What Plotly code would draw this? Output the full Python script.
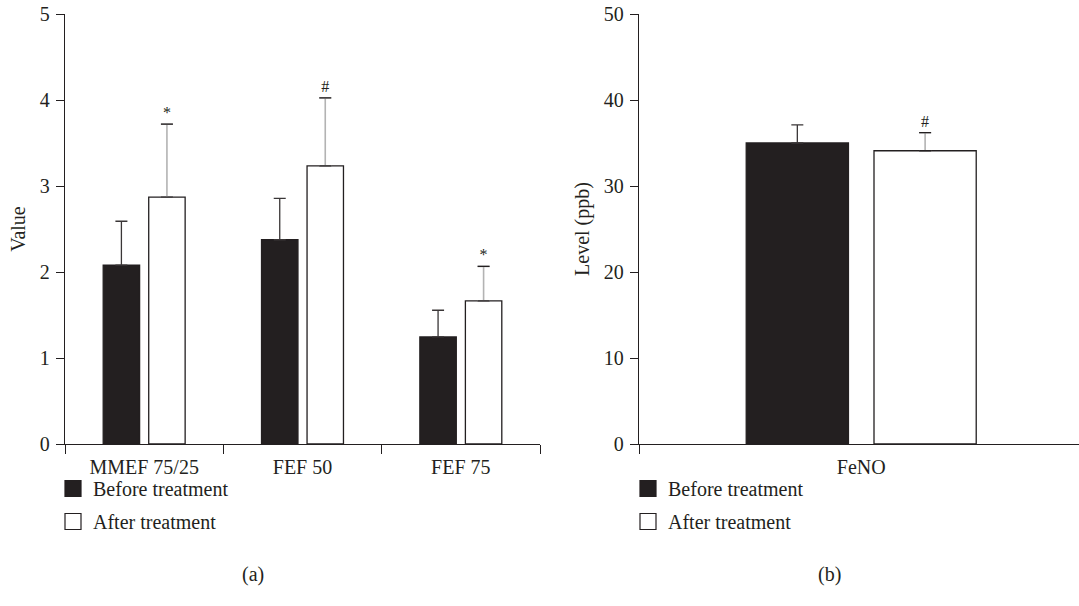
import plotly.graph_objects as go

# ---------------- data ----------------
categories_a = ["MMEF 75/25", "FEF 50", "FEF 75"]
before_a = [2.08, 2.375, 1.245]
before_a_err = [0.51, 0.48, 0.31]
after_a = [2.87, 3.235, 1.665]
after_a_err = [0.85, 0.79, 0.40]
marks_a = ["*", "#", "*"]

categories_b = ["FeNO"]
before_b = [35.0]
before_b_err = [2.1]
after_b = [34.1]
after_b_err = [2.1]
marks_b = ["#"]

legend_names = ["Before treatment", "After treatment"]
panel_labels = ["(a)", "(b)"]

# ---------------- style ----------------
DARK = "#231f20"
GRAY = "#b3b3b3"
FONT = "Liberation Serif"
FS = 20
W, H = 1079, 606
ML, MR, MT, MB = 65, 0, 14, 162
PW = W - ML - MR


def px_x(p):
    return (p - ML) / PW


def px_y(p):
    return (H - MB - p) / (H - MT - MB)


fig = go.Figure()


def add_panel(cats, bef, bef_err, aft, aft_err, marks, xa, ya, tag):
    n = len(cats)
    zeros = [0] * n
    fig.add_trace(go.Bar(
        x=cats, y=bef, xaxis=xa, yaxis=ya, offsetgroup="b" + tag,
        marker=dict(color=DARK, line=dict(color=DARK, width=1.3)),
        error_y=dict(type="data", array=bef_err, arrayminus=zeros, symmetric=False,
                     color="#3a3637", thickness=1.3, width=6),
        showlegend=False, hoverinfo="skip"))
    fig.add_trace(go.Bar(
        x=cats, y=aft, xaxis=xa, yaxis=ya, offsetgroup="a" + tag,
        marker=dict(color="white", line=dict(color=DARK, width=1.3)),
        error_y=dict(type="data", array=aft_err, arrayminus=zeros, symmetric=False,
                     color=GRAY, thickness=1.6, width=6),
        showlegend=False, hoverinfo="skip"))
    # dark cap at top of error bar + significance marks
    tops = [v + e for v, e in zip(aft, aft_err)]
    fig.add_trace(go.Bar(
        x=cats, y=tops, xaxis=xa, yaxis=ya, offsetgroup="a" + tag,
        marker=dict(color="rgba(0,0,0,0)", line=dict(width=0)),
        error_y=dict(type="data", array=zeros, arrayminus=zeros, symmetric=False,
                     color=DARK, thickness=1.3, width=6),
        text=marks, textposition="outside", cliponaxis=False,
        textfont=dict(family=FONT, size=16, color=DARK),
        showlegend=False, hoverinfo="skip"))
    # keep bar top outline dark where the error bar base sits
    fig.add_trace(go.Bar(
        x=cats, y=aft, xaxis=xa, yaxis=ya, offsetgroup="a" + tag,
        marker=dict(color="rgba(0,0,0,0)", line=dict(width=0)),
        error_y=dict(type="data", array=zeros, arrayminus=zeros, symmetric=False,
                     color=DARK, thickness=1.3, width=6),
        showlegend=False, hoverinfo="skip"))


add_panel(categories_a, before_a, before_a_err, after_a, after_a_err, marks_a, "x", "y", "1")
add_panel(categories_b, before_b, before_b_err, after_b, after_b_err, marks_b, "x2", "y2", "2")

# legend entries
for leg, xa, ya in [("legend", "x", "y"), ("legend2", "x2", "y2")]:
    for i, (name, col) in enumerate(zip(legend_names, [DARK, "white"])):
        fig.add_trace(go.Scatter(
            x=[None], y=[None], xaxis=xa, yaxis=ya, mode="markers", name=name,
            legend=leg, legendgroup=leg + str(i),
            marker=dict(symbol="square", size=16, color=col, line=dict(color=DARK, width=1.2))))

axis_common = dict(showline=True, linecolor=DARK, linewidth=1.3, showgrid=False,
                   zeroline=False, ticks="outside", tickcolor=DARK, tickwidth=1.3,
                   tickfont=dict(family=FONT, size=FS, color=DARK))

legend_common = dict(xanchor="left", yanchor="top", traceorder="grouped",
                     font=dict(family=FONT, size=FS, color=DARK), bgcolor="rgba(0,0,0,0)",
                     tracegroupgap=4, itemclick=False)

fig.update_layout(
    width=W, height=H,
    margin=dict(l=ML, r=MR, t=MT, b=MB),
    paper_bgcolor="white", plot_bgcolor="white",
    barmode="group", bargap=0.425, bargroupgap=0.2,
    font=dict(family=FONT, size=FS, color=DARK),
    xaxis=dict(domain=[0, px_x(540)], anchor="y", tickson="boundaries", ticklen=9,
               ticklabelstandoff=5, range=[-0.5, 2.5], **axis_common),
    yaxis=dict(domain=[0, 1], anchor="x", range=[0, 5], dtick=1, ticklen=8,
               ticklabelstandoff=2,
               title=dict(text="Value", font=dict(family=FONT, size=FS, color=DARK), standoff=8),
               **axis_common),
    xaxis2=dict(domain=[px_x(639), 1], anchor="y2", tickson="boundaries", ticklen=9,
                ticklabelstandoff=5, range=[-0.5, 0.49], **axis_common),
    yaxis2=dict(domain=[0, 1], anchor="x2", range=[0, 50], dtick=10, ticklen=8,
                ticklabelstandoff=2,
                title=dict(text="Level (ppb)", font=dict(family=FONT, size=FS, color=DARK), standoff=8),
                **axis_common),
    legend=dict(x=px_x(53), y=px_y(469), **legend_common),
    legend2=dict(x=px_x(628), y=px_y(469), **legend_common),
    annotations=[
        dict(text=panel_labels[0], x=px_x(253), y=px_y(574), xref="paper", yref="paper",
             xanchor="center", yanchor="middle",
             showarrow=False, font=dict(family=FONT, size=FS, color=DARK)),
        dict(text=panel_labels[1], x=px_x(829), y=px_y(574), xref="paper", yref="paper",
             xanchor="center", yanchor="middle",
             showarrow=False, font=dict(family=FONT, size=FS, color=DARK)),
    ],
)

fig.write_html("out.html")
